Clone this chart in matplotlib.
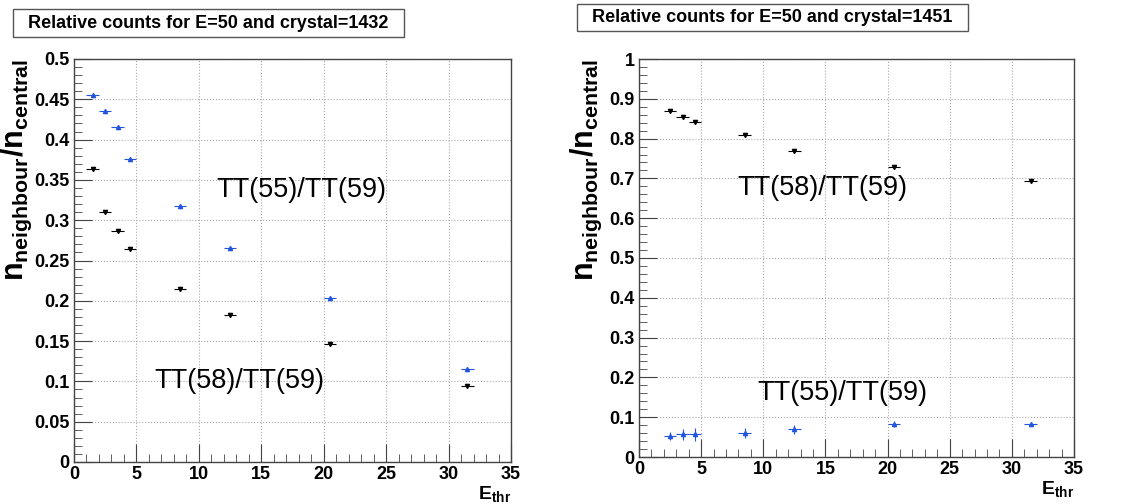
import matplotlib.pyplot as plt
from matplotlib.patches import Rectangle
from matplotlib.ticker import MultipleLocator

plt.rcParams['font.family'] = ['Liberation Sans', 'DejaVu Sans']
plt.rcParams['mathtext.fontset'] = 'custom'
plt.rcParams['mathtext.rm'] = 'Liberation Sans'
plt.rcParams['mathtext.bf'] = 'Liberation Sans:bold'

# crystal 1432
e_thr_1432 = [1.5, 2.5, 3.5, 4.5, 8.5, 12.5, 20.5, 31.5]
tt55_1432 = [0.455, 0.435, 0.416, 0.376, 0.318, 0.265, 0.204, 0.116]
tt58_1432 = [0.363, 0.310, 0.287, 0.264, 0.215, 0.183, 0.147, 0.094]

# crystal 1451
e_thr_1451 = [2.5, 3.5, 4.5, 8.5, 12.5, 20.5, 31.5]
tt58_1451 = [0.870, 0.855, 0.842, 0.808, 0.770, 0.728, 0.693]
tt55_1451 = [0.052, 0.057, 0.057, 0.060, 0.070, 0.083, 0.083]
tt55_1451_err = [0.010, 0.014, 0.017, 0.012, 0.011, 0.008, 0.006]

x_ticks = [0, 5, 10, 15, 20, 25, 30, 35]
y_ticks_1432 = [0, 0.05, 0.1, 0.15, 0.2, 0.25, 0.3, 0.35, 0.4, 0.45, 0.5]
y_labels_1432 = ['0', '0.05', '0.1', '0.15', '0.2', '0.25', '0.3', '0.35', '0.4', '0.45', '0.5']
y_ticks_1451 = [0, 0.1, 0.2, 0.3, 0.4, 0.5, 0.6, 0.7, 0.8, 0.9, 1.0]
y_labels_1451 = ['0', '0.1', '0.2', '0.3', '0.4', '0.5', '0.6', '0.7', '0.8', '0.9', '1']

bin_half = 0.5
blue = '#2255dd'
TICK_FS = 13
W, H = 1128, 504


def title_box(fig, title, x0, y0, x1, y1):
    # ROOT-style title pave, given in pixels from top-left
    fig.patches.append(Rectangle((x0 / W, 1 - y1 / H), (x1 - x0) / W, (y1 - y0) / H,
                                 transform=fig.transFigure, facecolor='white',
                                 edgecolor='#555555', linewidth=1.0))
    fig.text((x0 + x1) / 2 / W, 1 - (y0 + y1) / 2 / H, title, fontsize=13,
             fontweight='bold', ha='center', va='center')


def setup_axes(ax, ymax, minor, yticks, ylabels, ylab_x):
    ax.set_xlim(0, 35)
    ax.set_ylim(0, ymax)
    ax.xaxis.set_minor_locator(MultipleLocator(1))
    ax.yaxis.set_minor_locator(MultipleLocator(minor))
    ax.set_xticks(x_ticks)
    ax.set_xticklabels([str(t) for t in x_ticks], fontweight='bold', fontsize=TICK_FS)
    ax.set_yticks(yticks)
    ax.set_yticklabels(ylabels, fontweight='bold', fontsize=TICK_FS)
    ax.tick_params(which='both', direction='in', top=False, right=False,
                   pad=3, color='#444444')
    ax.tick_params(which='major', length=13)
    ax.tick_params(which='minor', length=6)
    ax.grid(True, which='major', linestyle=':', color='#aaaaaa', linewidth=0.8)
    for s in ax.spines.values():
        s.set_color('#444444')
        s.set_linewidth(1.0)
    ax.text(ylab_x, 1.0, r'$\mathbf{n_{neighbour}/n_{central}}$', transform=ax.transAxes,
            fontsize=22, rotation=90, ha='center', va='top')
    ax.text(1.0, -0.055, r'$\mathbf{E_{thr}}$', transform=ax.transAxes,
            fontsize=14, ha='right', va='top')


fig = plt.figure(figsize=(11.28, 5.04), dpi=100)

ax1 = fig.add_axes([74 / W, 1 - 462 / H, 437 / W, 403 / H])
ax1.errorbar(e_thr_1432, tt55_1432, xerr=bin_half, fmt='^', color=blue,
             markersize=3, elinewidth=0.8, capsize=0)
ax1.errorbar(e_thr_1432, tt58_1432, xerr=bin_half, fmt='v', color='black',
             markersize=3, elinewidth=0.8, capsize=0)
ax1.text(11.4, 0.338, 'TT(55)/TT(59)', fontsize=19.5, ha='left', va='center')
ax1.text(6.4, 0.101, 'TT(58)/TT(59)', fontsize=19.5, ha='left', va='center')
setup_axes(ax1, 0.5, 0.01, y_ticks_1432, y_labels_1432, -0.132)
title_box(fig, 'Relative counts for E=50 and crystal=1432', 13, 9, 404, 37)

ax2 = fig.add_axes([639 / W, 1 - 457 / H, 435 / W, 398 / H])
ax2.errorbar(e_thr_1451, tt58_1451, xerr=bin_half, fmt='v', color='black',
             markersize=3, elinewidth=0.8, capsize=0)
ax2.errorbar(e_thr_1451, tt55_1451, xerr=bin_half, yerr=tt55_1451_err, fmt='^',
             color=blue, markersize=3, elinewidth=0.8, capsize=0)
ax2.text(7.9, 0.676, 'TT(58)/TT(59)', fontsize=19.5, ha='left', va='center')
ax2.text(9.5, 0.162, 'TT(55)/TT(59)', fontsize=19.5, ha='left', va='center')
setup_axes(ax2, 1.0, 0.02, y_ticks_1451, y_labels_1451, -0.12)
title_box(fig, 'Relative counts for E=50 and crystal=1451', 577, 4, 968, 31)

fig.savefig('out.png', dpi=100)
